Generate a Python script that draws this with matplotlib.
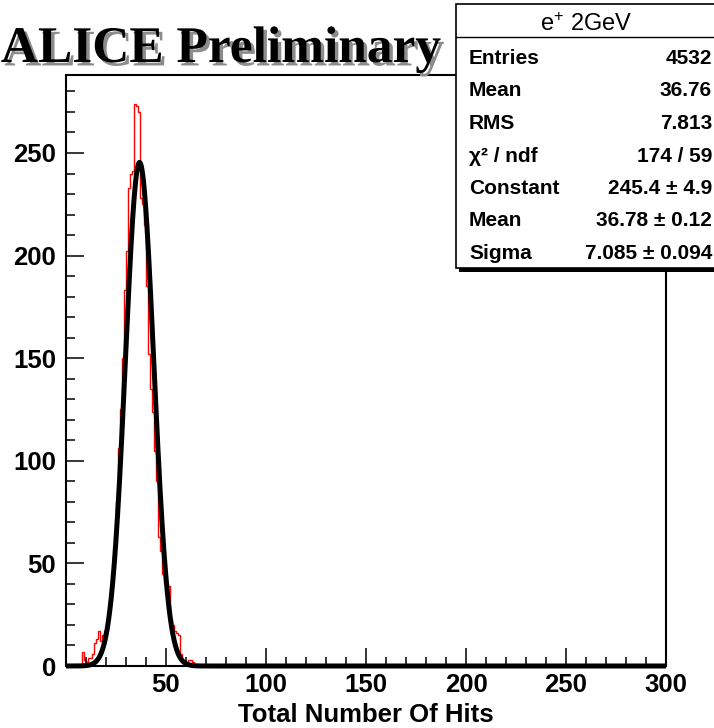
import numpy as np
import matplotlib.pyplot as plt
import matplotlib.patheffects as pe
from matplotlib.patches import Rectangle
from matplotlib.ticker import MultipleLocator

# red histogram: 1-hit bins, first bin starts at 6 hits
first_bin = 6
counts = [0, 1, 7, 3, 2, 4, 4, 6, 11, 13,
          17, 12, 15, 17, 20, 28, 35, 45, 60, 80,
          106, 125, 150, 183, 202, 233, 240, 241, 274, 273,
          270, 228, 225, 215, 185, 152, 135, 124, 105, 90,
          63, 56, 45, 40, 36, 39, 22, 20, 17, 16,
          15, 6, 3, 2, 1, 3, 3, 2, 0]

# gaussian fit parameters (from the stats box)
fit_const = 245.4
fit_mean = 36.78
fit_sigma = 7.085

box_title = r"e$^{+}$ 2GeV"
stat_labels = ["Entries", "Mean", "RMS", "\u03c7\u00b2 / ndf", "Constant", "Mean", "Sigma"]
stat_values = ["4532", "36.76", "7.813", "174 / 59", "245.4 \u00b1 4.9",
               "36.78 \u00b1 0.12", "7.085 \u00b1 0.094"]

plt.rcParams['font.family'] = ['Liberation Sans', 'DejaVu Sans']
plt.rcParams['font.weight'] = 'bold'
plt.rcParams['mathtext.default'] = 'regular'

W, H = 714, 728
fig = plt.figure(figsize=(W / 100, H / 100), dpi=100)


def fx(px):
    return px / W


def fy(py):
    return 1 - py / H


ax = fig.add_axes([fx(66), fy(666), (666 - 66) / W, (666 - 75) / H])

edges = np.arange(first_bin, first_bin + len(counts) + 1)
ax.stairs(counts, edges, color='red', lw=1.0, baseline=0)

xs = np.linspace(0, 300, 3001)
ax.plot(xs, fit_const * np.exp(-(xs - fit_mean) ** 2 / (2 * fit_sigma ** 2)),
        color='black', lw=3.6, clip_on=False, solid_capstyle='butt', zorder=3)

ax.set_xlim(0, 300)
ax.set_ylim(0, 288)

ax.xaxis.set_major_locator(MultipleLocator(50))
ax.xaxis.set_minor_locator(MultipleLocator(10))
ax.yaxis.set_major_locator(MultipleLocator(50))
ax.yaxis.set_minor_locator(MultipleLocator(10))
ax.tick_params(which='both', direction='in', width=1.1, top=False, right=False)
ax.tick_params(which='major', length=13, labelsize=18.5)
ax.tick_params(axis='x', which='major', pad=5)
ax.tick_params(axis='y', which='major', pad=7)
ax.tick_params(which='minor', length=6.5)
ax.set_xticks([50, 100, 150, 200, 250, 300])
for lab in ax.get_xticklabels() + ax.get_yticklabels():
    lab.set_fontweight('bold')
for sp in ax.spines.values():
    sp.set_linewidth(1.5)

ax.set_xlabel("Total Number Of Hits", fontsize=18.5, fontweight='bold', labelpad=4)

# ALICE Preliminary with a grey drop shadow
fig.text(fx(441), fy(62), "ALICE Preliminary", fontsize=37, fontweight='bold',
         family='Liberation Serif', color='black', ha='right', va='baseline',
         path_effects=[pe.withSimplePatchShadow(offset=(2.5, -2.5), shadow_rgbFace='#8c8c8c', alpha=1.0)])

# stats box
shadow = Rectangle((fx(459), fy(272)), fx(720) - fx(459), fy(7) - fy(272),
                   transform=fig.transFigure, facecolor='black', edgecolor='none', zorder=5)
box = Rectangle((fx(456), fy(268)), fx(720) - fx(456), fy(4) - fy(268),
                transform=fig.transFigure, facecolor='white', edgecolor='black', lw=1.2, zorder=6)
fig.add_artist(shadow)
fig.add_artist(box)
fig.add_artist(plt.Line2D([fx(456), fx(714)], [fy(37), fy(37)], transform=fig.transFigure,
                          color='black', lw=1.0, zorder=7))
fig.text(fx(586), fy(31), box_title, fontsize=17, fontweight='normal', ha='center', va='baseline', zorder=8)
for i, (lab, val) in enumerate(zip(stat_labels, stat_values)):
    yb = 64 + 32.5 * i
    fig.text(fx(469), fy(yb), lab, fontsize=15, fontweight='bold', ha='left', va='baseline', zorder=8)
    fig.text(fx(712), fy(yb), val, fontsize=15, fontweight='bold', ha='right', va='baseline', zorder=8)

plt.savefig('out.png', dpi=100)
